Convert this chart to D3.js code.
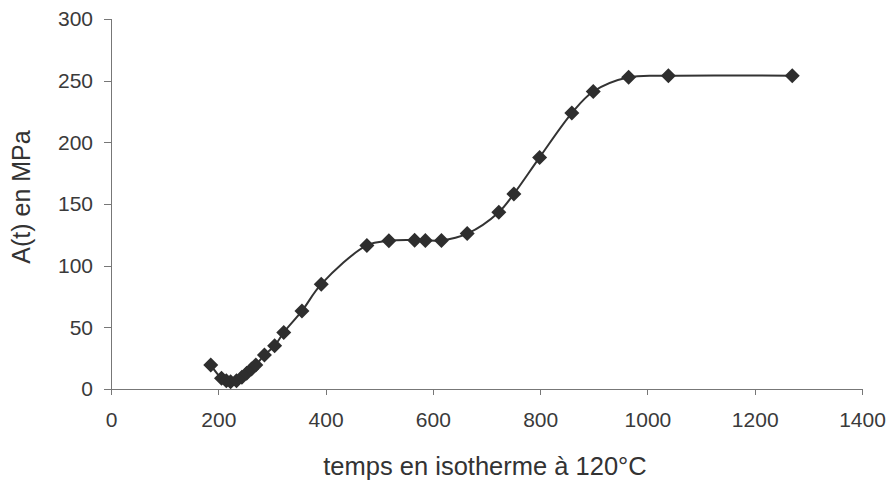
<!DOCTYPE html>
<html>
<head>
<meta charset="utf-8">
<style>
  body { margin: 0; background: #fff; }
  .axis path, .axis line { stroke: #777; shape-rendering: crispEdges; }
  .axis text { font-family: "Liberation Sans", Arial, sans-serif; fill: #3a3a3a; }
</style>
</head>
<body>
<svg width="893" height="485"></svg>
<script src="https://cdnjs.cloudflare.com/ajax/libs/d3/7.8.5/d3.min.js"></script>
<script>

// temps (x) and A(t) (y)
var temps = [186, 206, 215, 223, 234, 244, 253, 262, 270, 286, 305, 322, 356, 392,
             477, 518, 566, 586, 616, 664, 723, 751, 799, 859, 899, 965, 1039, 1270];
var contrainte = [19.4, 8.7, 6.7, 5.9, 6.7, 9.5, 12.7, 16.2, 19.4, 27.5, 35, 45.8, 63.3, 85,
                  116.4, 120.2, 120.7, 120.5, 120.5, 126, 143.4, 158.2, 187.8, 223.7, 241.2, 252.8, 254, 254];

var xTicks = [0, 200, 400, 600, 800, 1000, 1200, 1400];
var yTicks = [0, 50, 100, 150, 200, 250, 300];

var svg = d3.select("svg"),
    m = {left: 111, right: 862, top: 19, bottom: 389};

var x = d3.scaleLinear().domain([0, 1400]).range([m.left, m.right]);
var y = d3.scaleLinear().domain([0, 300]).range([m.bottom, m.top]);

var data = temps.map(function(t, i) { return {t: t, a: contrainte[i]}; });

// axes
svg.append("g")
    .attr("class", "axis")
    .attr("transform", "translate(0," + m.bottom + ")")
    .call(d3.axisBottom(x).tickValues(xTicks).tickFormat(d3.format("d"))
        .tickSizeOuter(0).tickSize(6).tickPadding(17))
    .selectAll("text").style("font-size", "21px");

svg.append("g")
    .attr("class", "axis")
    .attr("transform", "translate(" + m.left + ",0)")
    .call(d3.axisLeft(y).tickValues(yTicks).tickFormat(d3.format("d"))
        .tickSizeOuter(0).tickSize(7).tickPadding(11))
    .selectAll("text").style("font-size", "21px");

// curve
svg.append("path")
    .datum(data)
    .attr("fill", "none")
    .attr("stroke", "#333")
    .attr("stroke-width", 2)
    .attr("d", d3.line()
        .x(function(d) { return x(d.t); })
        .y(function(d) { return y(d.a); })
        .curve(d3.curveCatmullRom));

// diamond markers
svg.selectAll(".pt")
    .data(data)
    .enter().append("path")
        .attr("class", "pt")
        .attr("transform", function(d) { return "translate(" + x(d.t) + "," + y(d.a) + ")"; })
        .attr("d", "M0,-7.5L7.5,0L0,7.5L-7.5,0Z")
        .attr("fill", "#2e2e2e");

// axis titles
svg.append("text")
    .attr("x", 485)
    .attr("y", 475)
    .attr("text-anchor", "middle")
    .style("font-family", "Liberation Sans, Arial, sans-serif")
    .style("font-size", "25.5px")
    .style("fill", "#333")
    .text("temps en isotherme à 120°C");

svg.append("text")
    .attr("transform", "translate(30,197) rotate(-90)")
    .attr("text-anchor", "middle")
    .style("font-family", "Liberation Sans, Arial, sans-serif")
    .style("font-size", "25px")
    .style("fill", "#333")
    .text("A(t) en MPa");

</script>
</body>
</html>
